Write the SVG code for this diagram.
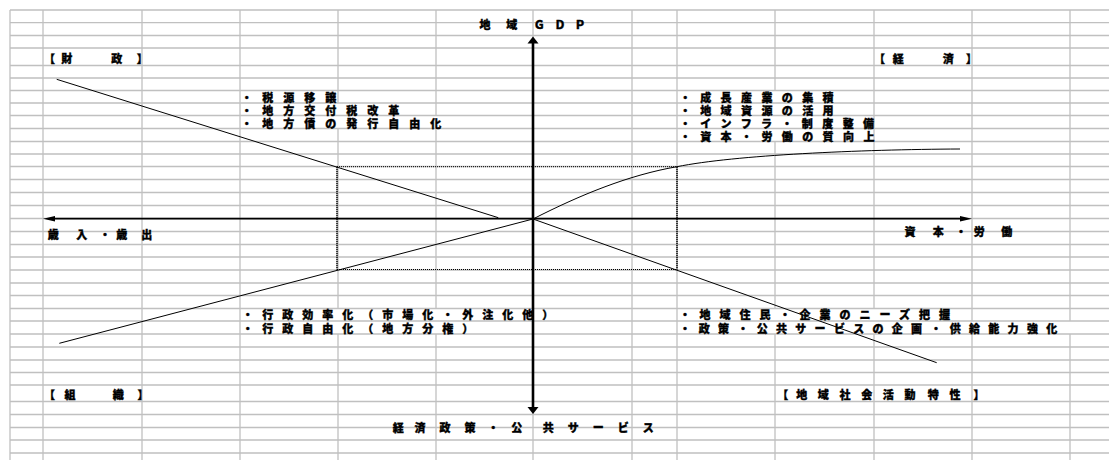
<svg xmlns="http://www.w3.org/2000/svg" width="1109" height="460" viewBox="0 0 1109 460">
<style>
.grid{fill:none;stroke:#c0c0c0;stroke-width:1.3}
.ln{fill:none;stroke:#000;stroke-width:1}
.ax{fill:none;stroke:#000}
.dot{fill:none;stroke:#000;stroke-dasharray:1 1}
.t{font-family:"Liberation Sans","Noto Sans CJK JP",sans-serif;font-weight:900;font-size:11px;fill:#000;stroke:#000;stroke-width:0.35px}
</style>
<rect width="1109" height="460" fill="#fff"/>
<g id="grid">
<path class="grid" d="M10 10H1109M10 22.7H1109M10 35.5H1109M10 48H1109M10 65.5H1109M10 78H1109M10 90.5H1109M10 103H1109M10 115.5H1109M10 128.5H1109M10 141.5H1109M10 154H1109M10 166.5H1109M10 179.5H1109M10 192.5H1109M10 205.5H1109M10 218.5H1109M10 231.5H1109M10 244.5H1109M10 257H1109M10 270H1109M10 283H1109M10 295.5H1109M10 308.5H1109M10 321H1109M10 334H1109M10 347H1109M10 360H1109M10 372.5H1109M10 385H1109M10 401.5H1109M10 414.5H1109M10 427.5H1109M10 440H1109M10 453H1109"/>
<path class="grid" d="M10 10V460M43 10V460M142 10V460M240 10V460M338 10V103M338 128.5V308.5M338 334V460M436 10V115.5M436 128.5V308.5M436 334V460M533 10V460M632 10V460M677 10V460M775 10V90.5M775 141.5V308.5M775 334V460M874 10V308.5M874 334V460M972 10V321M972 334V460M1070 10V321M1070 334V460"/>
</g>
<g id="frame">
<line class="dot" x1="337" y1="166.7" x2="677" y2="166.7"/>
<line class="dot" x1="337" y1="269.5" x2="677" y2="269.5"/>
<line class="dot" x1="337" y1="166.7" x2="337" y2="269.5" style="stroke-width:2"/>
<line class="dot" x1="677" y1="166.7" x2="677" y2="269.5" style="stroke-width:2"/>
</g>
<g id="connectors">
<line class="ln" x1="56.7" y1="79.3" x2="498.3" y2="217.7"/>
<line class="ln" x1="533" y1="219" x2="936.7" y2="362.7"/>
<line class="ln" x1="59.3" y1="343.3" x2="533" y2="219"/>
<path class="ln" d="M533 219C581 194.5 629 175 677 166.7C735 155 860 149.5 960 149"/>
<line class="ax" x1="533" y1="42" x2="533" y2="408" style="stroke-width:2.6"/>
<polygon points="533,36.5 527.5,43.5 538.5,43.5" fill="#000"/>
<polygon points="533,414 527.5,407 538.5,407" fill="#000"/>
<line class="ax" x1="54" y1="218.7" x2="961" y2="218.7" style="stroke-width:1.7"/>
<polygon points="43,218.7 55,216 55,221.4" fill="#000"/>
<polygon points="972,218.7 960,216 960,221.4" fill="#000"/>
</g>
<g id="axis-labels">
<text id="gdp" class="t" x="479.5 506.2 533.8 554.5 574.5" y="29.2">地域ＧＤＰ</text>
<text id="revenue" class="t" x="47.8 76.2 99.5 116.2 141.2" y="239.2">歳入・歳出</text>
<text id="capital" class="t" x="904.5 932.8 955.5 973.8 1001.2" y="235.9">資本・労働</text>
<text id="policy" class="t" x="392.8 414.5 439.5 464.5 487.8 511.2 542.8 567.8 592.8 617.8 642.8" y="431.9">経済政策・公共サービス</text>
</g>
<g id="quadrant-finance">
<text class="t" x="44 61.2 77.9 94.6 111.2 136.7" y="62.5">【財　　政】</text>
<text class="t" style="letter-spacing:10px"><tspan x="241.2" y="101.7">・税源移譲</tspan><tspan x="241.2" y="115">・地方交付税改革</tspan><tspan x="241.2" y="128.4">・地方債の発行自由化</tspan></text>
</g>
<g id="quadrant-economy">
<text class="t" x="874 892.8 909.5 926.2 942.8 966" y="62.5">【経　　済】</text>
<text class="t" style="letter-spacing:9.4px"><tspan x="679.8" y="101.7">・成長産業の集積</tspan><tspan x="679.8" y="114.7">・地域資源の活用</tspan><tspan x="679.8" y="127.9">・インフラ・制度整備</tspan><tspan x="679.8" y="140.6">・資本・労働の質向上</tspan></text>
</g>
<g id="quadrant-organization">
<text class="t" x="44 64.5 80.6 96.7 112.8 137.4" y="399.2">【組　　織】</text>
<text class="t" style="letter-spacing:9px"><tspan x="242.2" y="319.4">・行政効率化（市場化・外注化他）</tspan><tspan x="242.2" y="332.7">・行政自由化（地方分権）</tspan></text>
</g>
<g id="quadrant-community">
<text class="t" x="777.3 796.2 817.8 839.5 861.2 882.8 904.5 927.8 949.5 973.4" y="399.2">【地域社会活動特性】</text>
<text class="t"><tspan x="679.5" y="319.4" style="letter-spacing:9px">・地域住民・企業のニーズ把握</tspan><tspan x="679.5" y="332.7" style="letter-spacing:8.3px">・政策・公共サービスの企画・供給能力強化</tspan></text>
</g>
</svg>
